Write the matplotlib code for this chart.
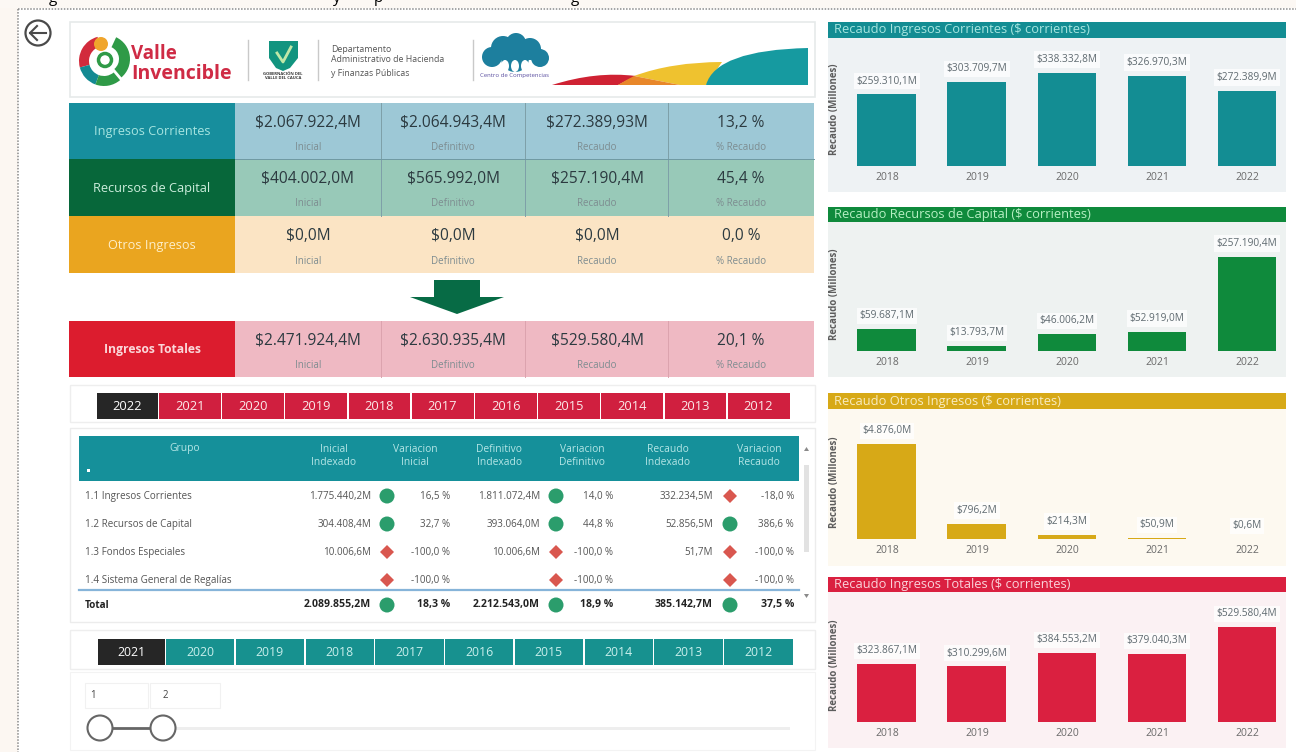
import matplotlib
matplotlib.use('Agg')
import matplotlib.pyplot as plt
from matplotlib.patches import Rectangle, Circle, Ellipse, Polygon, PathPatch, Wedge
from matplotlib.path import Path

plt.rcParams['font.family'] = ['Open Sans', 'DejaVu Sans']

W, H = 1296, 752

# data
years = ['2018', '2019', '2020', '2021', '2022']

corrientes = [259310.1, 303709.7, 338332.8, 326970.3, 272389.9]
corrientes_txt = ['$259.310,1M', '$303.709,7M', '$338.332,8M', '$326.970,3M', '$272.389,9M']
capital = [59687.1, 13793.7, 46006.2, 52919.0, 257190.4]
capital_txt = ['$59.687,1M', '$13.793,7M', '$46.006,2M', '$52.919,0M', '$257.190,4M']
otros = [4876.0, 796.2, 214.3, 50.9, 0.6]
otros_txt = ['$4.876,0M', '$796,2M', '$214,3M', '$50,9M', '$0,6M']
totales = [323867.1, 310299.6, 384553.2, 379040.3, 529580.4]
totales_txt = ['$323.867,1M', '$310.299,6M', '$384.553,2M', '$379.040,3M', '$529.580,4M']

kpi_names = ['Ingresos Corrientes', 'Recursos de Capital', 'Otros Ingresos', 'Ingresos Totales']
kpi_inicial = ['$2.067.922,4M', '$404.002,0M', '$0,0M', '$2.471.924,4M']
kpi_definitivo = ['$2.064.943,4M', '$565.992,0M', '$0,0M', '$2.630.935,4M']
kpi_recaudo = ['$272.389,93M', '$257.190,4M', '$0,0M', '$529.580,4M']
kpi_pct = ['13,2 %', '45,4 %', '0,0 %', '20,1 %']
kpi_subs = ['Inicial', 'Definitivo', 'Recaudo', '% Recaudo']

slicer_a = ['2022', '2021', '2020', '2019', '2018', '2017', '2016', '2015', '2014', '2013', '2012']
slicer_b = ['2021', '2020', '2019', '2018', '2017', '2016', '2015', '2014', '2013', '2012']

grupos = ['1.1 Ingresos Corrientes', '1.2 Recursos de Capital', '1.3 Fondos Especiales',
          '1.4 Sistema General de Regalías', 'Total']
inicial_idx = ['1.775.440,2M', '304.408,4M', '10.006,6M', '', '2.089.855,2M']
var_inicial = ['16,5 %', '32,7 %', '-100,0 %', '-100,0 %', '18,3 %']
definitivo_idx = ['1.811.072,4M', '393.064,0M', '10.006,6M', '', '2.212.543,0M']
var_definitivo = ['14,0 %', '44,8 %', '-100,0 %', '-100,0 %', '18,9 %']
recaudo_idx = ['332.234,5M', '52.856,5M', '51,7M', '', '385.142,7M']
var_recaudo = ['-18,0 %', '386,6 %', '-100,0 %', '-100,0 %', '37,5 %']
up_inicial = [1, 1, 0, 0, 1]
up_definitivo = [1, 1, 0, 0, 1]
up_recaudo = [0, 1, 0, 0, 1]
col_heads = ['Inicial\nIndexado', 'Variacion\nInicial', 'Definitivo\nIndexado',
             'Variacion\nDefinitivo', 'Recaudo\nIndexado', 'Variacion\nRecaudo']

fig = plt.figure(figsize=(12.96, 7.52), dpi=100, facecolor='white')
bg = fig.add_axes([0, 0, 1, 1])
bg.set_xlim(0, W)
bg.set_ylim(H, 0)
bg.axis('off')


def box(x0, y0, x1, y1, color, edge='none', lw=0, z=1):
    bg.add_patch(Rectangle((x0, y0), x1 - x0, y1 - y0, facecolor=color, edgecolor=edge, linewidth=lw, zorder=z))


def swoosh(start, ctrl, end, rest, color, z=3):
    # one curved top edge, then straight lines back to the start
    verts = [start, ctrl, end] + rest + [start]
    codes = [Path.MOVETO, Path.CURVE3, Path.CURVE3] + [Path.LINETO] * len(rest) + [Path.CLOSEPOLY]
    bg.add_patch(PathPatch(Path(verts, codes), facecolor=color, edgecolor='none', zorder=z))


# page margins
box(0, 0, 18, H, '#fcf7f2')
box(0, 0, W, 8, '#fcf8f4')
bg.plot([18, 18], [9, H], color='#8a8a8a', lw=1.1, ls=(0, (1, 1)), zorder=2)
bg.plot([18, W], [9, 9], color='#8a8a8a', lw=1.1, ls=(0, (1, 1)), zorder=2)
for x, ch in zip([53, 337, 378, 575], ['g', 'y', 'p', 'g']):
    bg.text(x, -1, ch, fontsize=11, color='black', ha='center', va='center', clip_on=True, zorder=2)

# back button
bg.add_patch(Circle((38, 33), 12.5, facecolor='white', edgecolor='#4a4a4a', linewidth=1.6, zorder=3))
bg.plot([30, 46], [33, 33], color='#4a4a4a', lw=1.5, zorder=4)
bg.plot([37, 30, 37], [26, 33, 40], color='#4a4a4a', lw=1.5, zorder=4)

# logo card
box(70, 22, 815, 97, 'white', '#e6eaea', 1.2)
for x in [248, 318, 473]:
    bg.plot([x, x], [40, 80], color='#c9c9c9', lw=1, zorder=3)

# y axis is inverted here, so wedge angles run clockwise on screen
bg.add_patch(Wedge((104, 61), 25, 165, 255, width=10, facecolor='#d22b3c', zorder=3))
bg.add_patch(Wedge((104, 61), 25, 110, 165, width=10, facecolor='#148a92', zorder=3))
bg.add_patch(Wedge((104, 61), 25, 50, 110, width=10, facecolor='#2f9a47', zorder=3))
bg.add_patch(Wedge((106, 59), 24, -65, 50, width=11, facecolor='#2f9a47', zorder=3))
bg.add_patch(Circle((101, 44), 7, facecolor='#f0a52c', zorder=4))
bg.add_patch(Circle((105, 60), 6.5, facecolor='white', edgecolor='#2f9a47', linewidth=2.5, zorder=4))
bg.text(131, 54, 'Valle', fontsize=13.5, fontweight='bold', color='#cf2b45', ha='left', va='center', zorder=5)
bg.text(131, 74, 'Invencible', fontsize=14, fontweight='bold', color='#cf2b45', ha='left', va='center', zorder=5)

bg.add_patch(Polygon([(269, 41), (298, 41), (298, 58), (290, 68), (283, 71), (276, 68), (269, 58)],
                     facecolor='#12947f', edgecolor='none', zorder=3))
bg.plot([277, 283, 291], [53, 62, 47], color='#bfe8a8', lw=2, zorder=4)
bg.text(283, 76, 'GOBERNACIÓN DEL\nVALLE DEL CAUCA', fontsize=3, fontweight='bold', color='#333333',
        ha='center', va='center', linespacing=0.9, zorder=4)

for yy, t in zip([49, 60, 73], ['Departamento', 'Administrativo de Hacienda', 'y Finanzas Públicas']):
    bg.text(331, yy, t, fontsize=6.3, color='#555555', ha='left', va='center', zorder=4)

for cx, cy, r in [(492, 57, 10), (503, 48, 12), (516, 43, 10), (530, 49, 11), (540, 58, 9), (515, 58, 14)]:
    bg.add_patch(Circle((cx, cy), r, facecolor='#1d7f9e', zorder=3))
for cx in [505, 515, 525]:
    bg.add_patch(Ellipse((cx, 66), 8, 12, facecolor='white', zorder=4))
bg.text(515, 75, 'Centro de Competencias', fontsize=4.3, color='#5a4ea0', ha='center', va='center', zorder=4)

swoosh((552, 85), (596, 71), (636, 76), [(618, 85)], '#cf2233', z=3)
swoosh((634, 76), (672, 62), (722, 62), [(706, 85), (680, 85)], '#efc22f', z=3)
swoosh((618, 85), (626, 80), (634, 76), [(680, 85)], '#e8872a', z=4)
swoosh((706, 85), (716, 50), (808, 48), [(808, 85)], '#169aa0', z=5)

# KPI rows
row_y = [(103, 159), (159, 216), (216, 273), (321, 377)]
label_cols = ['#178e9d', '#07673a', '#eaa51f', '#dc1c2e']
value_cols = ['#9dc8d6', '#98c9b8', '#fbe4c4', '#efb9c3']
name_cols = ['#a6e4e0', '#cdeedd', '#fdeec9', '#fbd7d9']
divs = [235, 381, 525, 668, 814]
centers = [308, 453, 597, 741]
val_rows = [kpi_inicial, kpi_definitivo, kpi_recaudo, kpi_pct]

for i, (y0, y1) in enumerate(row_y):
    box(69, y0, 235, y1, label_cols[i], z=2)
    box(235, y0, 814, y1, value_cols[i], z=2)
    bg.text(152, (y0 + y1) / 2 + 1, kpi_names[i], fontsize=8.7 if i == 3 else 9.2, color=name_cols[i],
            ha='center', va='center', zorder=4, fontweight='bold' if i == 3 else 'normal')
    if i != 2:
        for x in divs[1:4]:
            bg.plot([x, x], [y0, y1], color='#7e9fa8' if i < 2 else '#dca3ae', lw=0.7, zorder=3)
    for j, cx in enumerate(centers):
        bg.text(cx, y0 + 20, val_rows[j][i], fontsize=11.2, color='#2c3a40', ha='center', va='center', zorder=4)
        bg.text(cx, y0 + 45, kpi_subs[j], fontsize=7, color='#7d8c90', ha='center', va='center', zorder=4)
bg.plot([235, 814], [159, 159], color='#6f99a3', lw=0.7, zorder=3)

# down arrow
bg.add_patch(Polygon([(434, 280), (480, 280), (480, 297), (504, 297), (457, 314), (410, 297), (434, 297)],
                     facecolor='#076b45', edgecolor='none', zorder=3))


def slicer(labels, x0, x1, first_w, y0, y1, color, text_col, size):
    box(x0, y0, x0 + first_w, y1, '#262626', z=3)
    bg.text(x0 + first_w / 2, (y0 + y1) / 2, labels[0], fontsize=size, color='white', ha='center', va='center', zorder=4)
    step = (x1 - x0 - first_w) / (len(labels) - 1)
    for k, lab in enumerate(labels[1:]):
        a = x0 + first_w + k * step
        box(a + 1, y0, a + step - 0.5, y1, color, z=3)
        bg.text(a + step / 2, (y0 + y1) / 2, lab, fontsize=size, color=text_col, ha='center', va='center', zorder=4)


box(70, 385, 815, 422, 'white', '#eeeeee', 1)
slicer(slicer_a, 97, 790, 61, 393, 419, '#d01f3f', '#fbe9e9', 9.3)

# table
box(70, 428, 815, 622, 'white', '#ececec', 1)
box(79, 436, 799, 481, '#15909a', z=2)
bg.text(185, 449, 'Grupo', fontsize=7.4, color='#b5e6e6', ha='center', va='center', zorder=3)
bg.add_patch(Rectangle((87, 469), 3, 2.5, facecolor='white', zorder=3))
head_x = [334, 415, 499, 582, 668, 759]
for x, t in zip(head_x, col_heads):
    bg.text(x, 456, t, fontsize=7.4, color='#b5e6e6', ha='center', va='center', linespacing=1.25, zorder=3)

row_ys = [496, 524, 552, 580, 605]
columns = [(371, inicial_idx, 387, up_inicial, 450, var_inicial),
           (540, definitivo_idx, 556, up_definitivo, 613, var_definitivo),
           (713, recaudo_idx, 730, up_recaudo, 794, var_recaudo)]
for r, yy in enumerate(row_ys):
    weight = 'bold' if r == 4 else 'normal'
    col = '#222222' if r == 4 else '#555555'
    size = 7.6 if r == 4 else 7.1
    bg.text(85, yy, grupos[r], fontsize=7.1, color=col, fontweight=weight, ha='left', va='center', zorder=3)
    for vx, vals, mx, ups, px, pcts in columns:
        bg.text(vx, yy, vals[r], fontsize=size, color=col, fontweight=weight, ha='right', va='center', zorder=3)
        bg.text(px, yy, pcts[r], fontsize=size, color=col, fontweight=weight, ha='right', va='center', zorder=3)
        if ups[r]:
            bg.add_patch(Circle((mx, yy), 7.5, facecolor='#2b9d6c', zorder=3))
        else:
            bg.add_patch(Polygon([(mx, yy - 7), (mx + 7, yy), (mx, yy + 7), (mx - 7, yy)], facecolor='#d9574f', zorder=3))
bg.plot([79, 799], [590, 590], color='#86b4d9', lw=1.6, zorder=3)

# scrollbar
box(804, 465, 809, 552, '#e2e2e2', z=3)
bg.add_patch(Polygon([(806.5, 447), (809, 451), (804, 451)], facecolor='#8a8a8a', zorder=3))
bg.add_patch(Polygon([(806.5, 598), (809, 594), (804, 594)], facecolor='#8a8a8a', zorder=3))

box(70, 630, 815, 669, 'white', '#eeeeee', 1)
slicer(slicer_b, 98, 793, 67, 639, 665, '#17918f', '#c9efec', 8.8)

# range slider
box(70, 672, 815, 750, 'white', '#f3f3f3', 0.8)
box(85, 683, 148, 708, 'white', '#f1f1f1', 0.8, z=2)
box(150, 683, 220, 708, 'white', '#f1f1f1', 0.8, z=2)
bg.text(93, 696, '1', fontsize=7, color='#444444', ha='center', va='center', zorder=3)
bg.text(165, 696, '2', fontsize=7, color='#444444', ha='center', va='center', zorder=3)
box(163, 726.5, 790, 730, '#eeeeee', z=2)
bg.plot([100, 163], [728, 728], color='#666666', lw=2, zorder=3)
for x in [100, 163]:
    bg.add_patch(Circle((x, 728), 12.5, facecolor='white', edgecolor='#666666', linewidth=1.5, zorder=4))


def bar_chart(title, vals, txt, top, base, panel_bottom, head_top, color, panel, title_col):
    box(828, head_top, 1286, top, color, z=2)
    box(828, top, 1286, panel_bottom, panel, z=1)
    bg.text(834, (head_top + top) / 2, title, fontsize=9.3, color=title_col, ha='left', va='center', zorder=3)

    ax = fig.add_axes([847 / W, 1 - base / H, (1285 - 847) / W, (base - top) / H])
    ax.patch.set_alpha(0)
    xs = list(range(len(vals)))
    ax.bar(xs, vals, width=0.655, color=color)
    ax.set_xlim(-0.444, 4.422)
    ax.set_ylim(0, max(vals) * 1.37)
    ax.set_yticks([])
    ax.set_xticks(xs)
    ax.set_xticklabels(years, fontsize=7.5, color='#6a6a6a')
    ax.tick_params(axis='x', length=0, pad=4)
    for s in ax.spines.values():
        s.set_visible(False)
    ax.set_ylabel('Recaudo (Millones)', fontsize=7, color='#5c5c5c', fontweight='bold')
    ax.yaxis.set_label_coords(-0.016, 0.44)
    for x, v, t in zip(xs, vals, txt):
        ax.annotate(t, (x, v), xytext=(0, 9.5), textcoords='offset points', ha='center', va='center',
                    fontsize=7.3, color='#5f6a70',
                    bbox=dict(facecolor='white', edgecolor='none', alpha=0.75, pad=2))


bar_chart('Recaudo Ingresos Corrientes ($ corrientes)', corrientes, corrientes_txt,
          38, 166, 192, 22, '#138d93', '#eef2f4', '#a7e6e0')
bar_chart('Recaudo Recursos de Capital ($ corrientes)', capital, capital_txt,
          222, 351, 377, 207, '#0f8a3c', '#eef2f1', '#b6efc3')
bar_chart('Recaudo Otros Ingresos ($ corrientes)', otros, otros_txt,
          409, 539, 566, 393, '#d7a917', '#fdf9f0', '#f9ecc0')
bar_chart('Recaudo Ingresos Totales ($ corrientes)', totales, totales_txt,
          592, 722, 748, 577, '#da2040', '#fbf1f3', '#fad3da')

fig.savefig('out.png', dpi=100)
